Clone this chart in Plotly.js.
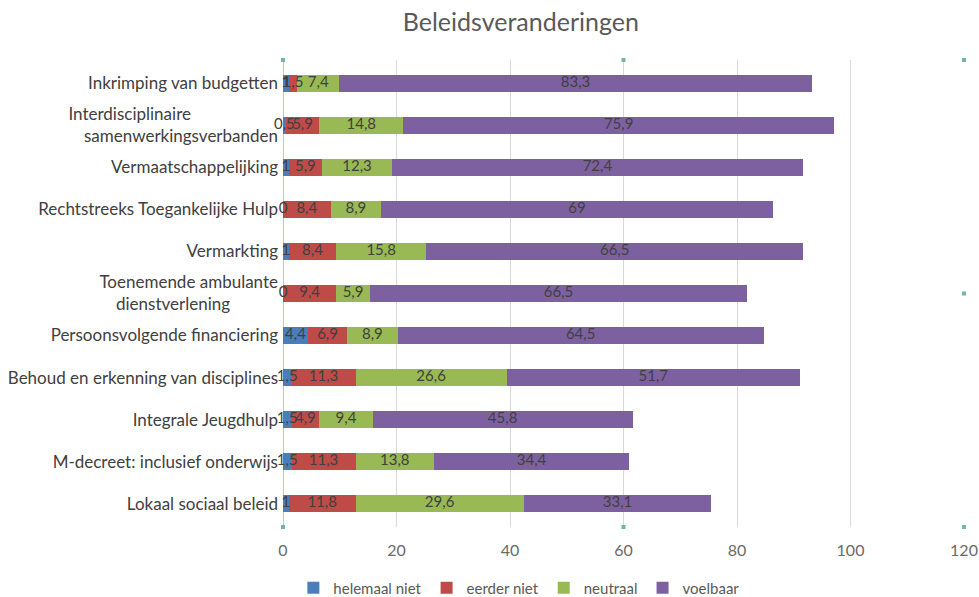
<!DOCTYPE html>
<html>
<head>
<meta charset="utf-8">
<script src="https://cdn.plot.ly/plotly-3.0.1.min.js"></script>
<style>html,body{margin:0;padding:0;background:#fff;}#chart{width:979px;height:597px;}</style>
</head>
<body>
<div id="chart"></div>
<script>
var categories = [
  "Inkrimping van budgetten",
  "Interdisciplinaire\u00a0\u00a0\u00a0\u00a0\u00a0\u00a0\u00a0\u00a0\u00a0\u00a0\u00a0\u00a0\u00a0\u00a0\u00a0\u00a0\u00a0\u00a0\u00a0\u00a0<br>samenwerkingsverbanden",
  "Vermaatschappelijking",
  "Rechtstreeks Toegankelijke Hulp",
  "Vermarkting",
  "Toenemende ambulante<br>dienstverlening\u00a0\u00a0\u00a0\u00a0\u00a0\u00a0\u00a0\u00a0\u00a0\u00a0\u00a0",
  "Persoonsvolgende financiering",
  "Behoud en erkenning van disciplines",
  "Integrale Jeugdhulp",
  "M-decreet: inclusief onderwijs",
  "Lokaal sociaal beleid"
];
var seriesNames = ["helemaal niet", "eerder niet", "neutraal", "voelbaar"];
var helemaalNiet = [1, 0.5, 1, 0, 1, 0, 4.4, 1.5, 1.5, 1.5, 1];
var eerderNiet   = [1.5, 5.9, 5.9, 8.4, 8.4, 9.4, 6.9, 11.3, 4.9, 11.3, 11.8];
var neutraal     = [7.4, 14.8, 12.3, 8.9, 15.8, 5.9, 8.9, 26.6, 9.4, 13.8, 29.6];
var voelbaar     = [83.3, 75.9, 72.4, 69, 66.5, 66.5, 64.5, 51.7, 45.8, 34.4, 33.1];
var xTicks = [0, 20, 40, 60, 80, 100, 120];

var colors = ["#4a7ebb", "#be4b48", "#98b954", "#7d60a0"];
var seriesValues = [helemaalNiet, eerderNiet, neutraal, voelbaar];
var FONT = 'Lato, "Open Sans", sans-serif';

function fmt(v){ return String(v).replace('.', ','); }

var traces = seriesValues.map(function(vals, i){
  return {
    type: 'bar',
    orientation: 'h',
    name: seriesNames[i],
    y: categories,
    x: vals,
    marker: {color: colors[i]},
    hoverinfo: 'x+y+name'
  };
});

// data labels drawn on top of all bars, centred in each segment
var labelX = [], labelY = [], labelT = [];
categories.forEach(function(c, j){
  var base = 0;
  seriesValues.forEach(function(vals){
    labelX.push(base + vals[j] / 2);
    labelY.push(c);
    labelT.push(fmt(vals[j]));
    base += vals[j];
  });
});
traces.push({
  type: 'scatter', mode: 'text', x: labelX, y: labelY, text: labelT,
  textposition: 'middle center', cliponaxis: false, showlegend: false,
  textfont: {family: FONT, size: 15, color: '#404040'}, hoverinfo: 'skip'
});

var handles = [[0,1],[0.5,1],[1,1],[1,0.5],[1,0],[0.5,0],[0,0]];
var shapes = handles.map(function(h){
  return {type:'rect', xref:'paper', yref:'paper',
    xsizemode:'pixel', ysizemode:'pixel', xanchor:h[0], yanchor:h[1],
    x0:-2, x1:2, y0:-2, y1:2,
    line:{width:0}, fillcolor:'#6fb8a4'};
});

var layout = {
  width: 979, height: 597,
  margin: {l: 283, r: 15, t: 60, b: 70},
  paper_bgcolor: '#ffffff', plot_bgcolor: '#ffffff',
  separators: ',.',
  barmode: 'stack',
  bargap: 0.6,
  font: {family: FONT, color: '#595959', size: 14},
  title: {text: 'Beleidsveranderingen', x: 0.532, xref: 'container', xanchor: 'center',
          y: 0.963, yref: 'container', yanchor: 'middle',
          font: {size: 25, color: '#595959', family: FONT}},
  xaxis: {range: [0, 120], tickvals: xTicks, ticktext: xTicks.map(String),
          showgrid: true, gridcolor: '#d9d9d9', gridwidth: 1,
          zeroline: true, zerolinecolor: '#b7c9dc', zerolinewidth: 1,
          showline: false, ticks: '', fixedrange: true, ticklabelstandoff: 12,
          automargin: false,
          tickfont: {size: 16, color: '#6a6a6a'}},
  yaxis: {autorange: 'reversed', showgrid: false, zeroline: false, showline: false,
          ticks: '', ticklabelstandoff: 4, automargin: false,
          tickfont: {size: 17, color: '#404040'}},
  legend: {orientation: 'h', x: 0.53, xref: 'container', xanchor: 'center',
           y: 0.015, yref: 'container', yanchor: 'middle',
           traceorder: 'normal', font: {size: 15, color: '#595959'}, itemwidth: 30},
  shapes: shapes,
  showlegend: true
};

Plotly.newPlot('chart', traces, layout, {displayModeBar: false, staticPlot: true});
</script>
</body>
</html>
